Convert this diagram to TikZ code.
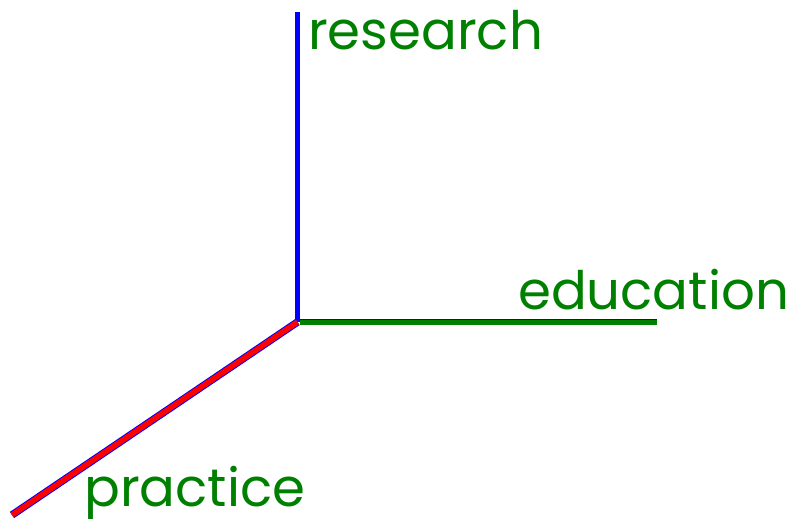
\documentclass[tikz,border=0pt]{standalone}
\usepackage{fontspec}
\setmainfont{Poppins}
\usepackage{xcolor}
\usetikzlibrary{positioning,calc}
\definecolor{labgreen}{RGB}{0,128,0}

\begin{document}
\begin{tikzpicture}[x=1pt, y=1pt,
  axisline/.style={line width=5pt},
  lab/.style={text=labgreen, font=\fontsize{53}{53}\selectfont, inner sep=0pt, anchor=base west}]
\useasboundingbox (0,0) rectangle (796,519);
\coordinate (o) at (297.5,197);
\coordinate (top) at (297.5,507);
\coordinate (right) at (657,197);
\coordinate (low) at (12,4);
% axes
\draw[axisline, blue] (o)--(top);
\draw[axisline, labgreen, line width=6pt] ([xshift=2pt]o)--(right);
\draw[blue, line width=1pt] ([xshift=2pt,yshift=2.5pt]o)--([yshift=2.5pt]right);
\draw[blue, line width=7.5pt] (o)--(low);
\draw[red, line width=5.5pt] (o)--(low);
% labels
\node[lab] (research) at (308,469) {research};
\node[lab] (education) at (518,209) {education};
\node[lab] (practice) at (84,12) {practice};
\end{tikzpicture}
\end{document}
